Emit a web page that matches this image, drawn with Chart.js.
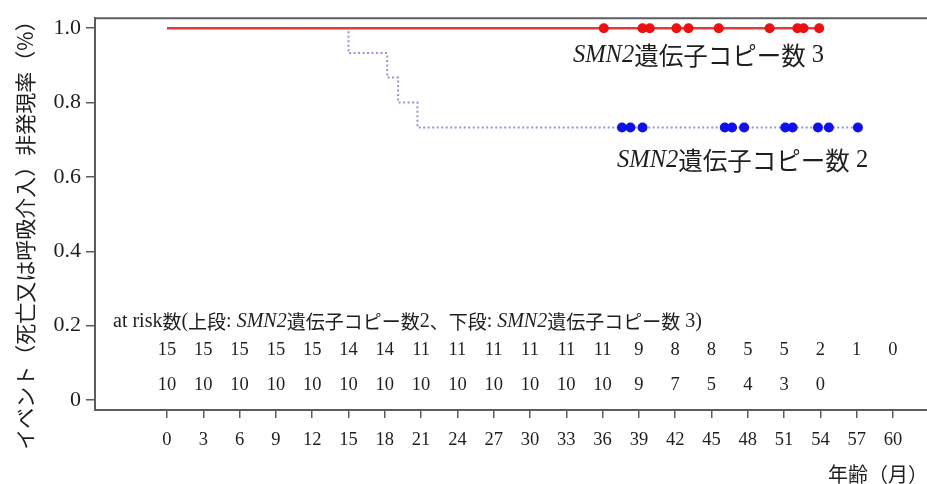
<!DOCTYPE html>
<html>
<head>
<meta charset="utf-8">
<script src="https://cdn.jsdelivr.net/npm/chart.js@4/dist/chart.umd.min.js"></script>
<style>
  html, body { margin: 0; padding: 0; background: #fff; overflow: hidden; }
  #wrap { width: 932px; height: 484px; position: relative; }
</style>
</head>
<body>
<div id="wrap"><canvas id="km"></canvas></div>
<script>
// tick labels
const months = [0, 3, 6, 9, 12, 15, 18, 21, 24, 27, 30, 33, 36, 39, 42, 45, 48, 51, 54, 57, 60];
const survTicks = [0, 0.2, 0.4, 0.6, 0.8, 1.0];

// number at risk (upper row: 2 copies, lower row: 3 copies)
const riskCopy2 = [15, 15, 15, 15, 15, 14, 14, 11, 11, 11, 11, 11, 11, 9, 8, 8, 5, 5, 2, 1, 0];
const riskCopy3 = [10, 10, 10, 10, 10, 10, 10, 10, 10, 10, 10, 10, 10, 9, 7, 5, 4, 3, 0];

// Kaplan-Meier steps
const copy2Times = [0, 15, 18.2, 19.1, 20.7, 57.1];
const copy2Surv  = [1, 0.933, 0.867, 0.8, 0.733, 0.733];
const copy3Times = [0, 54];
const copy3Surv  = [1, 1];

// censored observations
const copy2Censor = [37.6, 38.3, 39.3, 46.1, 46.7, 47.7, 51.1, 51.7, 53.8, 54.7, 57.1];
const copy2CensorSurv = 0.733;
const copy3Censor = [36.1, 39.3, 39.9, 42.1, 43.1, 45.6, 49.8, 52.1, 52.6, 53.9];
const copy3CensorSurv = 1;

const SERIF = "'Liberation Serif', 'Times New Roman', serif";
const CJK = "'Noto Sans CJK JP', 'Noto Sans', sans-serif";
const INK = '#1e1e1e';
const AXIS = '#5c5c5c';

// draw a line of text made of pieces in different fonts
function richText(ctx, parts, x, y, align) {
  let total = 0;
  parts.forEach(p => { ctx.font = p[1]; total += ctx.measureText(p[0]).width; });
  let cx = align === 'center' ? x - total / 2 : align === 'right' ? x - total : x;
  ctx.textAlign = 'left';
  ctx.textBaseline = 'middle';
  parts.forEach(p => {
    ctx.font = p[1];
    ctx.fillText(p[0], cx, y);
    cx += ctx.measureText(p[0]).width;
  });
}

function curveLabel(n) {
  return [
    ['SMN2', 'italic 24.5px ' + SERIF],
    ['遺伝子コピー数', '24.5px ' + CJK],
    [' ' + n, '24.5px ' + SERIF]
  ];
}

const extras = {
  id: 'extras',
  afterDraw(chart) {
    const ctx = chart.ctx;
    const a = chart.chartArea;
    const xs = chart.scales.x, ys = chart.scales.y;
    ctx.save();

    // top frame line
    ctx.strokeStyle = AXIS;
    ctx.lineWidth = 2;
    ctx.beginPath();
    ctx.moveTo(a.left - 1, a.top);
    ctx.lineTo(a.right + 2, a.top);
    ctx.stroke();

    ctx.fillStyle = INK;

    // curve labels
    richText(ctx, curveLabel(3), xs.getPixelForValue(33.55), ys.getPixelForValue(0.925), 'left');
    richText(ctx, curveLabel(2), xs.getPixelForValue(37.2), ys.getPixelForValue(0.643), 'left');

    // at risk heading
    const s = '20px ' + SERIF, c = '19px ' + CJK, it = 'italic 20px ' + SERIF;
    richText(ctx, [
      ['at risk', s], ['数', c], ['(', s], ['上段', c], [': ', s],
      ['SMN2', it], ['遺伝子コピー数', c], ['2', s], ['、', c],
      ['下段', c], [': ', s], ['SMN2', it], ['遺伝子コピー数', c], [' 3)', s]
    ], a.left + 18, 322, 'left');

    // at risk numbers
    ctx.font = '18.5px ' + SERIF;
    ctx.textAlign = 'center';
    ctx.textBaseline = 'middle';
    riskCopy2.forEach((v, i) => ctx.fillText(String(v), xs.getPixelForValue(months[i]), 350));
    riskCopy3.forEach((v, i) => ctx.fillText(String(v), xs.getPixelForValue(months[i]), 385));

    // axis titles
    richText(ctx, [['年齢（月）', '20px ' + CJK]], 928, 474, 'right');
    ctx.translate(25, 230);
    ctx.rotate(-Math.PI / 2);
    richText(ctx, [['イベント（死亡又は呼吸介入）非発現率（%）', '21px ' + CJK]], 0, 0, 'center');

    ctx.restore();
  }
};

new Chart(document.getElementById('km'), {
  type: 'line',
  data: {
    datasets: [
      {
        label: 'copy3 censored',
        data: copy3Censor.map(t => ({ x: t, y: copy3CensorSurv })),
        showLine: false,
        pointRadius: 5,
        pointBackgroundColor: '#ee1010',
        pointBorderWidth: 0
      },
      {
        label: 'copy2 censored',
        data: copy2Censor.map(t => ({ x: t, y: copy2CensorSurv })),
        showLine: false,
        pointRadius: 5,
        pointBackgroundColor: '#1010ee',
        pointBorderWidth: 0
      },
      {
        label: 'SMN2 3',
        data: copy3Times.map((t, i) => ({ x: t, y: copy3Surv[i] })),
        stepped: true,
        borderColor: '#e23b3b',
        borderWidth: 2.5,
        pointRadius: 0
      },
      {
        label: 'SMN2 2',
        data: copy2Times.map((t, i) => ({ x: t, y: copy2Surv[i] })),
        stepped: true,
        borderColor: '#9595dc',
        borderWidth: 2,
        borderDash: [2, 2.5],
        pointRadius: 0
      }
    ]
  },
  options: {
    responsive: true,
    maintainAspectRatio: false,
    animation: false,
    layout: { padding: { top: 17, left: 0, right: 0, bottom: 0 } },
    plugins: {
      legend: { display: false },
      tooltip: { enabled: false }
    },
    scales: {
      x: {
        type: 'linear',
        min: -5.95,
        max: 62.81,
        afterBuildTicks: s => { s.ticks = months.map(v => ({ value: v })); },
        afterFit: s => { s.height = 74; },
        border: { display: true, color: AXIS, width: 2 },
        grid: { drawOnChartArea: false, drawTicks: true, tickLength: 8, color: AXIS, lineWidth: 1.5 },
        ticks: {
          autoSkip: false,
          maxRotation: 0,
          padding: 11,
          color: INK,
          font: { family: SERIF, size: 18.5 }
        }
      },
      y: {
        type: 'linear',
        min: -0.0268,
        max: 1.0268,
        afterBuildTicks: s => { s.ticks = survTicks.map(v => ({ value: v })); },
        afterFit: s => { s.width = 95; },
        border: { display: true, color: AXIS, width: 2 },
        grid: { drawOnChartArea: false, drawTicks: true, tickLength: 9, color: AXIS, lineWidth: 1.5 },
        ticks: {
          padding: 5,
          color: INK,
          font: { family: SERIF, size: 22 },
          callback: v => v === 0 ? '0' : v.toFixed(1)
        }
      }
    }
  },
  plugins: [extras]
});
</script>
</body>
</html>
